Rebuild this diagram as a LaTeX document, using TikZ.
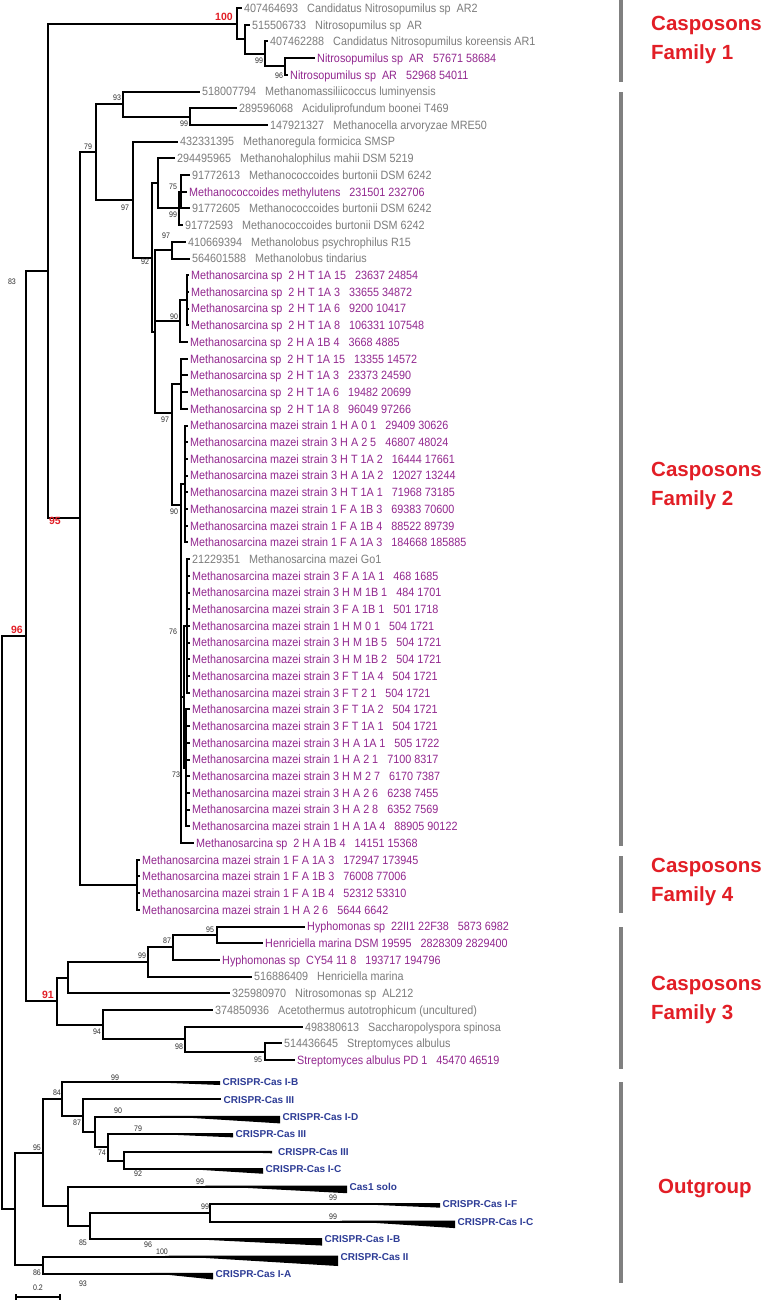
\documentclass[tikz,border=0pt]{standalone}
\usepackage{fontspec}
\setmainfont{Liberation Sans}
\newfontfamily\leaffont[FakeStretch=0.9]{Liberation Sans}
\newfontfamily\smallfont[FakeStretch=0.88]{Liberation Sans}
\definecolor{leafgray}{RGB}{125,125,125}
\definecolor{leafmag}{RGB}{146,39,143}
\definecolor{outblue}{RGB}{45,60,150}
\definecolor{famred}{RGB}{226,30,38}
\definecolor{bargray}{RGB}{128,128,128}
\definecolor{bsgray}{RGB}{45,45,45}
\newcommand\mmz{Methanosarcina mazei strain}
\newcommand\msp{Methanosarcina sp~~}
\newcommand\wdg[4]{\fill (#1,{#3-1}) -- (#2,{#3-1}) -- (#2,{#3-1+#4}) -- cycle;}
\tikzset{
 br/.style={line width=2pt, draw=black, line join=miter},
 leaf/.style={anchor=west, inner xsep=2pt, inner ysep=0pt, font=\leaffont\fontsize{12pt}{12pt}\selectfont, text height=8.6pt, text depth=0pt},
 gl/.style={leaf, text=leafgray},
 ml/.style={leaf, text=leafmag},
 bs/.style={inner sep=0pt, font=\smallfont\fontsize{8pt}{8pt}\selectfont, text=bsgray},
 rbs/.style={inner sep=0pt, font=\bfseries\fontsize{10.5pt}{10.5pt}\selectfont, text=famred},
 ol/.style={anchor=west, inner xsep=2.5pt, inner ysep=0pt, font=\bfseries\fontsize{10pt}{10pt}\selectfont, text=outblue, text height=7.2pt, text depth=0pt},
 fam/.style={anchor=west, align=left, inner sep=0pt, font=\bfseries\fontsize{20.5pt}{29pt}\selectfont, text=famred},
 fbar/.style={line width=4pt, draw=bargray},
}
\begin{document}
\begin{tikzpicture}[x=1pt,y=-1pt]
\fill[white] (0,0) rectangle (762,1301);
\useasboundingbox (0,0) rectangle (762,1301);

% ---------- leaves ----------
\node[gl] (r1) at (242,8) {407464693~~~Candidatus Nitrosopumilus sp~~AR2};
\node[gl] (r2) at (250,24.7) {515506733~~~Nitrosopumilus sp~~AR};
\node[gl] (r3) at (268,41.4) {407462288~~~Candidatus Nitrosopumilus koreensis AR1};
\node[ml] (r4) at (315,58.1) {Nitrosopumilus sp~~AR~~~57671 58684};
\node[ml] (r5) at (288,74.8) {Nitrosopumilus sp~~AR~~~52968 54011};
\node[gl] (r6) at (200,91.5) {518007794~~~Methanomassiliicoccus luminyensis};
\node[gl] (r7) at (237,108.2) {289596068~~~Aciduliprofundum boonei T469};
\node[gl] (r8) at (268,124.9) {147921327~~~Methanocella arvoryzae MRE50};
\node[gl] (r9) at (178,141.6) {432331395~~~Methanoregula formicica SMSP};
\node[gl] (r10) at (175,158.3) {294495965~~~Methanohalophilus mahii DSM 5219};
\node[gl] (r11) at (190,175) {91772613~~~Methanococcoides burtonii DSM 6242};
\node[ml] (r12) at (187,191.7) {Methanococcoides methylutens~~~231501 232706};
\node[gl] (r13) at (190,208.4) {91772605~~~Methanococcoides burtonii DSM 6242};
\node[gl] (r14) at (183,225.1) {91772593~~~Methanococcoides burtonii DSM 6242};
\node[gl] (r15) at (186,241.8) {410669394~~~Methanolobus psychrophilus R15};
\node[gl] (r16) at (190,258.5) {564601588~~~Methanolobus tindarius};
\node[ml] (r17) at (189,275.2) {\msp 2 H T 1A 15~~~23637 24854};
\node[ml] (r18) at (189,291.9) {\msp 2 H T 1A 3~~~33655 34872};
\node[ml] (r19) at (189,308.6) {\msp 2 H T 1A 6~~~9200 10417};
\node[ml] (r20) at (189,325.3) {\msp 2 H T 1A 8~~~106331 107548};
\node[ml] (r21) at (188,342) {\msp 2 H A 1B 4~~~3668 4885};
\node[ml] (r22) at (188,358.7) {\msp 2 H T 1A 15~~~13355 14572};
\node[ml] (r23) at (188,375.4) {\msp 2 H T 1A 3~~~23373 24590};
\node[ml] (r24) at (188,392.1) {\msp 2 H T 1A 6~~~19482 20699};
\node[ml] (r25) at (188,408.8) {\msp 2 H T 1A 8~~~96049 97266};
\node[ml] (r26) at (188,425.5) {\mmz\ 1 H A 0 1~~~29409 30626};
\node[ml] (r27) at (188,442.2) {\mmz\ 3 H A 2 5~~~46807 48024};
\node[ml] (r28) at (188,458.9) {\mmz\ 3 H T 1A 2~~~16444 17661};
\node[ml] (r29) at (188,475.6) {\mmz\ 3 H A 1A 2~~~12027 13244};
\node[ml] (r30) at (188,492.3) {\mmz\ 3 H T 1A 1~~~71968 73185};
\node[ml] (r31) at (188,509) {\mmz\ 1 F A 1B 3~~~69383 70600};
\node[ml] (r32) at (188,525.7) {\mmz\ 1 F A 1B 4~~~88522 89739};
\node[ml] (r33) at (188,542.4) {\mmz\ 1 F A 1A 3~~~184668 185885};
\node[gl] (r34) at (190,559.1) {21229351~~~Methanosarcina mazei Go1};
\node[ml] (r35) at (190,575.8) {\mmz\ 3 F A 1A 1~~~468 1685};
\node[ml] (r36) at (190,592.5) {\mmz\ 3 H M 1B 1~~~484 1701};
\node[ml] (r37) at (190,609.2) {\mmz\ 3 F A 1B 1~~~501 1718};
\node[ml] (r38) at (190,625.9) {\mmz\ 1 H M 0 1~~~504 1721};
\node[ml] (r39) at (190,642.6) {\mmz\ 3 H M 1B 5~~~504 1721};
\node[ml] (r40) at (190,659.3) {\mmz\ 3 H M 1B 2~~~504 1721};
\node[ml] (r41) at (190,676) {\mmz\ 3 F T 1A 4~~~504 1721};
\node[ml] (r42) at (190,692.7) {\mmz\ 3 F T 2 1~~~504 1721};
\node[ml] (r43) at (190,709.4) {\mmz\ 3 F T 1A 2~~~504 1721};
\node[ml] (r44) at (190,726.1) {\mmz\ 3 F T 1A 1~~~504 1721};
\node[ml] (r45) at (190,742.8) {\mmz\ 3 H A 1A 1~~~505 1722};
\node[ml] (r46) at (190,759.5) {\mmz\ 1 H A 2 1~~~7100 8317};
\node[ml] (r47) at (190,776.2) {\mmz\ 3 H M 2 7~~~6170 7387};
\node[ml] (r48) at (190,792.9) {\mmz\ 3 H A 2 6~~~6238 7455};
\node[ml] (r49) at (190,809.6) {\mmz\ 3 H A 2 8~~~6352 7569};
\node[ml] (r50) at (190,826.3) {\mmz\ 1 H A 1A 4~~~88905 90122};
\node[ml] (r51) at (194,843) {\msp 2 H A 1B 4~~~14151 15368};
\node[ml] (r52) at (140,859.7) {\mmz\ 1 F A 1A 3~~~172947 173945};
\node[ml] (r53) at (140,876.4) {\mmz\ 1 F A 1B 3~~~76008 77006};
\node[ml] (r54) at (140,893.1) {\mmz\ 1 F A 1B 4~~~52312 53310};
\node[ml] (r55) at (140,909.8) {\mmz\ 1 H A 2 6~~~5644 6642};
\node[ml] (r56) at (305,926.5) {Hyphomonas sp~~22II1 22F38~~~5873 6982};
\node[ml] (r57) at (263,943.2) {Henriciella marina DSM 19595~~~2828309 2829400};
\node[ml] (r58) at (220,959.9) {Hyphomonas sp~~CY54 11 8~~~193717 194796};
\node[gl] (r59) at (252,976.6) {516886409~~~Henriciella marina};
\node[gl] (r60) at (230,993.3) {325980970~~~Nitrosomonas sp~~AL212};
\node[gl] (r61) at (213,1010) {374850936~~~Acetothermus autotrophicum (uncultured)};
\node[gl] (r62) at (303,1026.7) {498380613~~~Saccharopolyspora spinosa};
\node[gl] (r63) at (282,1043.4) {514436645~~~Streptomyces albulus};
\node[ml] (r64) at (295,1060.1) {Streptomyces albulus PD 1~~~45470 46519};

% outgroup leaves
\node[ol] (o1) at (220,1082) {CRISPR-Cas I-B};
\node[ol] (o2) at (221,1099.45) {CRISPR-Cas III};
\node[ol] (o3) at (280,1116.9) {CRISPR-Cas I-D};
\node[ol] (o4) at (233,1134.35) {CRISPR-Cas III};
\node[ol,inner xsep=6pt] (o5) at (272,1151.8) {CRISPR-Cas III};
\node[ol] (o6) at (263,1169.25) {CRISPR-Cas I-C};
\node[ol] (o7) at (347,1186.7) {Cas1 solo};
\node[ol] (o8) at (440,1204.15) {CRISPR-Cas I-F};
\node[ol] (o9) at (455,1221.6) {CRISPR-Cas I-C};
\node[ol] (o10) at (322,1239.05) {CRISPR-Cas I-B};
\node[ol] (o11) at (338,1256.5) {CRISPR-Cas II};
\node[ol] (o12) at (213,1273.95) {CRISPR-Cas I-A};

% ---------- internal nodes ----------
\coordinate (root) at (2,922.45);
\coordinate (n96) at (26,636);
\coordinate (n83) at (48,271);
\coordinate (n100) at (237,23.65);
\coordinate (nF1b) at (245,39.3);
\coordinate (n99a) at (265,53.9);
\coordinate (n96a) at (285,66.45);
\coordinate (n95r) at (80,518.3);
\coordinate (n79) at (96,151.8);
\coordinate (n93) at (123,104);
\coordinate (n99m) at (190,116.55);
\coordinate (n97a) at (133,199.55);
\coordinate (n92) at (152,257.5);
\coordinate (nMh) at (158,183.35);
\coordinate (nMc99) at (179,208.4);
\coordinate (nMc75) at (181,191.7);
\coordinate (nY) at (155,331.6);
\coordinate (n97b) at (172,250.15);
\coordinate (n90a) at (180,321.1);
\coordinate (nP1) at (187,300.25);
\coordinate (n97c) at (172,413);
\coordinate (nP2) at (181,383.75);
\coordinate (n90b) at (181,505);
\coordinate (nP4) at (185,483.95);
\coordinate (n76) at (184,696.9);
\coordinate (nP5) at (187,625.9);
\coordinate (n73) at (185.5,767.85);
\coordinate (nF4) at (137,884.75);
\coordinate (n91) at (57,1001.1);
\coordinate (n68) at (68,977.65);
\coordinate (n99b) at (148,962);
\coordinate (n87) at (173,947.4);
\coordinate (n95b) at (217,934.85);
\coordinate (n94) at (103,1024.6);
\coordinate (n98) at (185,1039.2);
\coordinate (n95c) at (265,1051.75);
\coordinate (nout) at (15,1208.9);
\coordinate (n95o) at (43,1152.6);
\coordinate (n86) at (43,1265.2);
\coordinate (n84) at (62,1098.9);
\coordinate (nc) at (68,1206.35);
\coordinate (n87o) at (83,1115.8);
\coordinate (nb) at (95,1132.15);
\coordinate (n74) at (108,1147.4);
\coordinate (na) at (124,1160.5);
\coordinate (n85) at (90,1226);
\coordinate (n99o) at (210,1212.9);

% ---------- branches ----------
\begin{scope}[br]
\draw (root) |- (n96); \draw (root) |- (nout);
\draw (n96) |- (n83); \draw (n96) |- (n91);
\draw (n83) |- (n100); \draw (n83) |- (n95r);
\draw (n100) |- (r1.west); \draw (n100) |- (nF1b);
\draw (nF1b) |- (r2.west); \draw (nF1b) |- (n99a);
\draw (n99a) |- (r3.west); \draw (n99a) |- (n96a);
\draw (n96a) |- (r4.west); \draw (n96a) |- (r5.west);
\draw (n95r) |- (n79); \draw (n95r) |- (nF4);
\draw (n79) |- (n93); \draw (n79) |- (n97a);
\draw (n93) |- (r6.west); \draw (n93) |- (n99m);
\draw (n99m) |- (r7.west); \draw (n99m) |- (r8.west);
\draw (n97a) |- (r9.west); \draw (n97a) |- (n92);
\draw (n92) |- (nMh); \draw (n92) |- (nY);
\draw (nMh) |- (r10.west); \draw (nMh) |- (nMc99);
\draw (nMc99) |- (nMc75); \draw (nMc99) |- (r14.west);
\foreach \i in {11,12,13} \draw (nMc75) |- (r\i.west);
\draw (nY) |- (n97b); \draw (nY) |- (n90a); \draw (nY) |- (n97c);
\draw (n97b) |- (r15.west); \draw (n97b) |- (r16.west);
\draw (n90a) |- (nP1); \draw (n90a) |- (r21.west);
\foreach \i in {17,...,20} \draw (nP1) |- (r\i.west);
\draw (n97c) |- (nP2); \draw (n97c) |- (n90b);
\foreach \i in {22,...,25} \draw (nP2) |- (r\i.west);
\draw (n90b) |- (nP4); \draw (n90b) |- (n76); \draw (n90b) |- (r51.west);
\foreach \i in {26,...,33} \draw (nP4) |- (r\i.west);
\draw (n76) |- (nP5); \draw (n76) |- (n73);
\foreach \i in {34,...,42} \draw (nP5) |- (r\i.west);
\foreach \i in {43,...,50} \draw (n73) |- (r\i.west);
\foreach \i in {52,...,55} \draw (nF4) |- (r\i.west);
\draw (n91) |- (n68); \draw (n91) |- (n94);
\draw (n68) |- (n99b); \draw (n68) |- (r60.west);
\draw (n99b) |- (n87); \draw (n99b) |- (r59.west);
\draw (n87) |- (n95b); \draw (n87) |- (r58.west);
\draw (n95b) |- (r56.west); \draw (n95b) |- (r57.west);
\draw (n94) |- (r61.west); \draw (n94) |- (n98);
\draw (n98) |- (r62.west); \draw (n98) |- (n95c);
\draw (n95c) |- (r63.west); \draw (n95c) |- (r64.west);
\draw (nout) |- (n95o); \draw (nout) |- (n86);
\draw (n95o) |- (n84); \draw (n95o) |- (nc);
\draw (n84) |- (o1.west); \draw (n84) |- (n87o);
\draw (n87o) |- (o2.west); \draw (n87o) |- (nb);
\draw (nb) |- (o3.west); \draw (nb) |- (n74);
\draw (n74) |- (o4.west); \draw (n74) |- (na);
\draw (na) |- (o5.west); \draw (na) |- (o6.west);
\draw (nc) |- (o7.west); \draw (nc) |- (n85);
\draw (n85) |- (n99o); \draw (n85) |- (o10.west);
\draw (n99o) |- (o8.west); \draw (n99o) |- (o9.west);
\draw (n86) |- (o11.west); \draw (n86) |- (o12.west);
\end{scope}

% collapsed-clade wedges
\wdg{122}{220}{1082}{4}
\wdg{160}{280}{1116.9}{7.5}
\wdg{140}{233}{1134.35}{4}
\wdg{200}{272}{1151.8}{2.5}
\wdg{175}{263}{1169.25}{5.5}
\wdg{205}{347}{1186.7}{7.5}
\wdg{335}{440}{1204.15}{4.5}
\wdg{340}{455}{1221.6}{7.5}
\wdg{170}{322}{1239.05}{7.5}
\wdg{165}{338}{1256.5}{10.5}
\wdg{150}{213}{1273.95}{6.5}

% ---------- support values ----------
\node[rbs] (s1) at (224,17) {100};
\node[rbs] (s2) at (55,521) {95};
\node[rbs] (s3) at (17,630) {96};
\node[rbs] (s4) at (48,995) {91};
\node[bs] (b1) at (259,61) {99};
\node[bs] (b2) at (279,76) {96};
\node[bs] (b3) at (117,98) {93};
\node[bs] (b4) at (184,124) {99};
\node[bs] (b5) at (88,147) {79};
\node[bs] (b6) at (125,208) {97};
\node[bs] (b7) at (173,187) {75};
\node[bs] (b8) at (173,215) {99};
\node[bs] (b9) at (166,236) {97};
\node[bs] (b10) at (145,262) {92};
\node[bs] (b11) at (174,317) {90};
\node[bs] (b12) at (165,420) {97};
\node[bs] (b13) at (174,512) {90};
\node[bs] (b14) at (173,632) {76};
\node[bs] (b15) at (176,775) {73};
\node[bs] (b16) at (12,282) {83};
\node[bs] (b17) at (210,930) {95};
\node[bs] (b18) at (167,941) {87};
\node[bs] (b19) at (142,956) {99};
\node[bs] (b20) at (97,1032) {94};
\node[bs] (b21) at (179,1047) {98};
\node[bs] (b22) at (258,1060) {95};
\node[bs] (b23) at (115,1078) {99};
\node[bs] (b24) at (57,1093) {84};
\node[bs] (b25) at (118,1111) {90};
\node[bs] (b26) at (77,1123) {87};
\node[bs] (b27) at (138,1129) {79};
\node[bs] (b28) at (102,1153) {74};
\node[bs] (b29) at (138,1174) {92};
\node[bs] (b30) at (37,1148) {95};
\node[bs] (b31) at (200,1182) {99};
\node[bs] (b32) at (333,1198) {99};
\node[bs] (b33) at (205,1207) {99};
\node[bs] (b34) at (333,1217) {99};
\node[bs] (b35) at (83,1243) {85};
\node[bs] (b36) at (148,1245) {96};
\node[bs] (b37) at (162,1252) {100};
\node[bs] (b38) at (37,1273) {86};
\node[bs] (b39) at (83,1284) {93};

% ---------- scale bar ----------
\coordinate (sb1) at (16,1297);
\coordinate (sb2) at (60,1297);
\draw[line width=1.2pt] (sb1) -- (sb2);
\draw[line width=1.2pt] (16,1294) -- (16,1300);
\draw[line width=1.2pt] (60,1294) -- (60,1300);
\node[bs] (sbl) at (38,1288) {0.2};

% ---------- family bars and labels ----------
\draw[fbar] (621,0) -- (621,82);
\draw[fbar] (621,92) -- (621,846);
\draw[fbar] (621,856) -- (621,913);
\draw[fbar] (621,927) -- (621,1069);
\draw[fbar] (621,1082) -- (621,1283);
\node[fam] (f1) at (651,40) {Casposons\\Family 1};
\node[fam] (f2) at (651,486) {Casposons\\Family 2};
\node[fam] (f4) at (651,882) {Casposons\\Family 4};
\node[fam] (f3) at (651,1000) {Casposons\\Family 3};
\node[fam] (f5) at (658,1188) {Outgroup};
\end{tikzpicture}
\end{document}
